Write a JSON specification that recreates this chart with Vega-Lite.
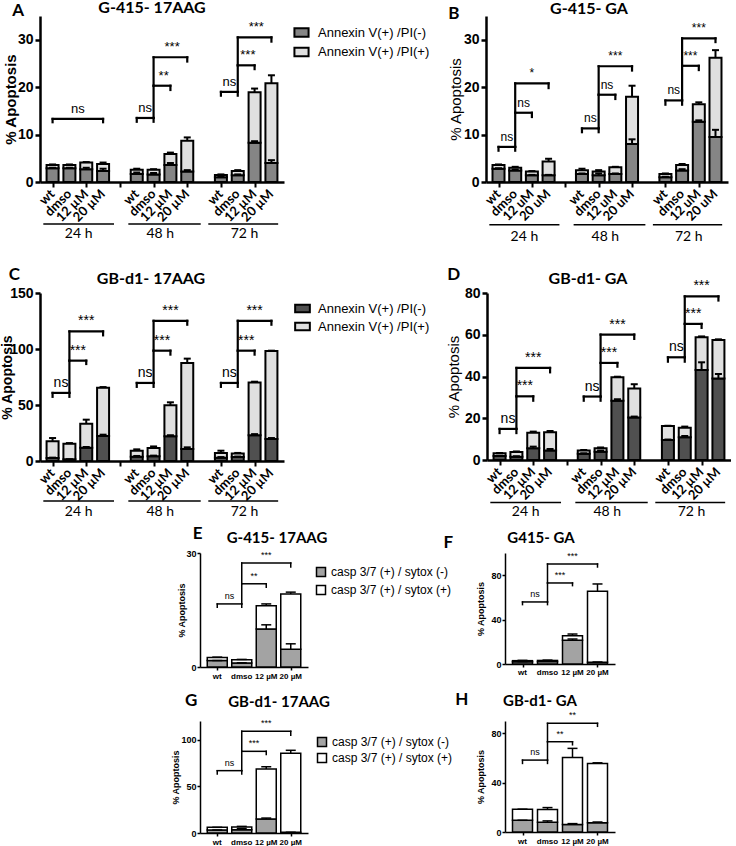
{
"$schema": "https://vega.github.io/schema/vega-lite/v6.json",
"padding": {"left": 0, "top": 0, "right": 0, "bottom": 0},
"config": {
 "view": {"stroke": null},
 "axis": {"grid": false, "domainColor": "black", "tickColor": "black", "labelColor": "black", "titleColor": "black", "labelFont": "Liberation Sans", "titleFont": "Liberation Sans", "labelFontWeight": "bold", "titleFontWeight": "bold", "labelOverlap": false, "labelFlush": false},
 "title": {"font": "Lato", "fontWeight": "bold", "color": "black", "anchor": "middle", "baseline": "alphabetic"},
 "text": {"color": "black"}
},
"datasets": {
 "grp": [{"g": "24 h", "a": 0.45, "b": 4.65, "m": 2.55}, {"g": "48 h", "a": 5.5, "b": 9.8, "m": 7.4}, {"g": "72 h", "a": 10.25, "b": 14.4, "m": 12.4}],
 "xlM": [{"x": 1, "lab": "wt"}, {"x": 2, "lab": "dmso"}, {"x": 3, "lab": "12 µM"}, {"x": 4, "lab": "20 µM"}, {"x": 6, "lab": "wt"}, {"x": 7, "lab": "dmso"}, {"x": 8, "lab": "12 µM"}, {"x": 9, "lab": "20 µM"}, {"x": 11, "lab": "wt"}, {"x": 12, "lab": "dmso"}, {"x": 13, "lab": "12 µM"}, {"x": 14, "lab": "20 µM"}],
 "xlU": [{"x": 1, "lab": "wt"}, {"x": 2, "lab": "dmso"}, {"x": 3, "lab": "12 uM"}, {"x": 4, "lab": "20 uM"}, {"x": 6, "lab": "wt"}, {"x": 7, "lab": "dmso"}, {"x": 8, "lab": "12 uM"}, {"x": 9, "lab": "20 uM"}, {"x": 11, "lab": "wt"}, {"x": 12, "lab": "dmso"}, {"x": 13, "lab": "12 uM"}, {"x": 14, "lab": "20 uM"}],
 "xl4": [{"x": 1, "lab": "wt"}, {"x": 2, "lab": "dmso"}, {"x": 3, "lab": "12 µM"}, {"x": 4, "lab": "20 µM"}],
 "bA": [
  {"x": 1, "neg": 2.9, "negHi": 3.0, "tot": 3.6, "totHi": 3.7},
  {"x": 2, "neg": 2.9, "negHi": 3.0, "tot": 3.6, "totHi": 3.7},
  {"x": 3, "neg": 2.7, "negHi": 3.0, "tot": 4.1, "totHi": 4.2},
  {"x": 4, "neg": 2.3, "negHi": 2.8, "tot": 3.8, "totHi": 4.1},
  {"x": 6, "neg": 1.7, "negHi": 2.0, "tot": 2.6, "totHi": 2.8},
  {"x": 7, "neg": 1.6, "negHi": 1.9, "tot": 2.6, "totHi": 2.7},
  {"x": 8, "neg": 3.6, "negHi": 4.0, "tot": 5.9, "totHi": 6.2},
  {"x": 9, "neg": 2.2, "negHi": 2.5, "tot": 8.7, "totHi": 9.4},
  {"x": 11, "neg": 1.0, "negHi": 1.1, "tot": 1.5, "totHi": 1.6},
  {"x": 12, "neg": 1.4, "negHi": 1.6, "tot": 2.3, "totHi": 2.5},
  {"x": 13, "neg": 8.3, "negHi": 8.6, "tot": 18.9, "totHi": 19.7},
  {"x": 14, "neg": 4.0, "negHi": 4.6, "tot": 20.8, "totHi": 22.5}
 ],
 "rA": [
  {"x1": 1, "x2": 4, "y": 13.3, "yl": 12.6, "yr": 12.6, "xm": 2.5, "t": "ns"},
  {"x1": 6, "x2": 7, "y": 13.5, "yl": 12.7, "yr": 12.7, "xm": 6.5, "t": "ns"},
  {"x1": 7, "x2": 8, "y": 20.3, "yl": 13.5, "yr": 19.4, "xm": 7.6, "t": "**"},
  {"x1": 7, "x2": 9, "y": 26.3, "yl": 20.3, "yr": 25.4, "xm": 8.1, "t": "***"},
  {"x1": 11, "x2": 12, "y": 19.0, "yl": 18.2, "yr": 18.2, "xm": 11.5, "t": "ns"},
  {"x1": 12, "x2": 13, "y": 24.6, "yl": 19.0, "yr": 23.8, "xm": 12.6, "t": "***"},
  {"x1": 12, "x2": 14, "y": 30.5, "yl": 24.6, "yr": 29.6, "xm": 13.1, "t": "***"}
 ],
 "bB": [
  {"x": 1, "neg": 2.8, "negHi": 2.9, "tot": 3.6, "totHi": 3.7},
  {"x": 2, "neg": 2.4, "negHi": 2.6, "tot": 3.0, "totHi": 3.2},
  {"x": 3, "neg": 1.4, "negHi": 1.5, "tot": 2.2, "totHi": 2.3},
  {"x": 4, "neg": 1.4, "negHi": 1.5, "tot": 4.3, "totHi": 4.9},
  {"x": 6, "neg": 1.7, "negHi": 1.8, "tot": 2.5, "totHi": 2.8},
  {"x": 7, "neg": 1.4, "negHi": 1.8, "tot": 2.2, "totHi": 2.5},
  {"x": 8, "neg": 1.7, "negHi": 1.8, "tot": 3.1, "totHi": 3.2},
  {"x": 9, "neg": 8.0, "negHi": 9.0, "tot": 18.0, "totHi": 20.3},
  {"x": 11, "neg": 1.0, "negHi": 1.1, "tot": 1.7, "totHi": 1.8},
  {"x": 12, "neg": 2.4, "negHi": 2.7, "tot": 3.6, "totHi": 3.8},
  {"x": 13, "neg": 12.7, "negHi": 13.0, "tot": 16.4, "totHi": 16.8},
  {"x": 14, "neg": 9.5, "negHi": 11.0, "tot": 26.2, "totHi": 27.8}
 ],
 "rB": [
  {"x1": 1, "x2": 2, "y": 7.4, "yl": 6.6, "yr": 6.6, "xm": 1.5, "t": "ns"},
  {"x1": 2, "x2": 3, "y": 14.6, "yl": 7.4, "yr": 13.7, "xm": 2.5, "t": "ns"},
  {"x1": 2, "x2": 4, "y": 20.8, "yl": 14.6, "yr": 19.8, "xm": 3, "t": "*"},
  {"x1": 6, "x2": 7, "y": 11.3, "yl": 10.5, "yr": 10.5, "xm": 6.5, "t": "ns"},
  {"x1": 7, "x2": 8, "y": 18.4, "yl": 11.3, "yr": 17.5, "xm": 7.5, "t": "ns"},
  {"x1": 7, "x2": 9, "y": 24.4, "yl": 18.4, "yr": 23.5, "xm": 8, "t": "***"},
  {"x1": 11, "x2": 12, "y": 17.2, "yl": 16.3, "yr": 16.3, "xm": 11.5, "t": "ns"},
  {"x1": 12, "x2": 13, "y": 24.5, "yl": 17.2, "yr": 23.6, "xm": 12.5, "t": "***"},
  {"x1": 12, "x2": 14, "y": 30.3, "yl": 24.5, "yr": 29.5, "xm": 13, "t": "***"}
 ],
 "bC": [
  {"x": 1, "neg": 2.7, "negHi": 3.0, "tot": 17.6, "totHi": 20.5},
  {"x": 2, "neg": 1.5, "negHi": 1.6, "tot": 15.5, "totHi": 16.0},
  {"x": 3, "neg": 11.9, "negHi": 12.5, "tot": 33.3, "totHi": 36.9},
  {"x": 4, "neg": 22.3, "negHi": 23.5, "tot": 65.5, "totHi": 66.0},
  {"x": 6, "neg": 3.9, "negHi": 4.5, "tot": 9.2, "totHi": 10.4},
  {"x": 7, "neg": 4.2, "negHi": 4.8, "tot": 11.6, "totHi": 13.0},
  {"x": 8, "neg": 22.0, "negHi": 23.0, "tot": 49.7, "totHi": 52.4},
  {"x": 9, "neg": 10.7, "negHi": 12.2, "tot": 87.5, "totHi": 91.4},
  {"x": 11, "neg": 3.0, "negHi": 3.5, "tot": 7.1, "totHi": 9.2},
  {"x": 12, "neg": 3.6, "negHi": 4.0, "tot": 6.8, "totHi": 7.2},
  {"x": 13, "neg": 22.9, "negHi": 24.0, "tot": 70.0, "totHi": 70.8},
  {"x": 14, "neg": 19.6, "negHi": 20.5, "tot": 98.2, "totHi": 98.5}
 ],
 "rC": [
  {"x1": 1, "x2": 2, "y": 60.8, "yl": 57.3, "yr": 57.3, "xm": 1.5, "t": "ns"},
  {"x1": 2, "x2": 3, "y": 89.6, "yl": 60.8, "yr": 86.6, "xm": 2.5, "t": "***"},
  {"x1": 2, "x2": 4, "y": 115.7, "yl": 89.6, "yr": 112.2, "xm": 3, "t": "***"},
  {"x1": 6, "x2": 7, "y": 69.7, "yl": 66.2, "yr": 66.2, "xm": 6.5, "t": "ns"},
  {"x1": 7, "x2": 8, "y": 98.5, "yl": 69.7, "yr": 95.0, "xm": 7.5, "t": "***"},
  {"x1": 7, "x2": 9, "y": 125.2, "yl": 98.5, "yr": 121.7, "xm": 8, "t": "***"},
  {"x1": 11, "x2": 12, "y": 69.7, "yl": 66.2, "yr": 66.2, "xm": 11.5, "t": "ns"},
  {"x1": 12, "x2": 13, "y": 98.5, "yl": 69.7, "yr": 95.0, "xm": 12.5, "t": "***"},
  {"x1": 12, "x2": 14, "y": 125.2, "yl": 98.5, "yr": 121.7, "xm": 13, "t": "***"}
 ],
 "bD": [
  {"x": 1, "neg": 1.9, "negHi": 2.0, "tot": 3.2, "totHi": 3.3},
  {"x": 2, "neg": 1.6, "negHi": 1.8, "tot": 3.8, "totHi": 4.1},
  {"x": 3, "neg": 5.6, "negHi": 6.4, "tot": 13.1, "totHi": 13.6},
  {"x": 4, "neg": 4.5, "negHi": 5.3, "tot": 13.3, "totHi": 13.9},
  {"x": 6, "neg": 3.0, "negHi": 3.2, "tot": 4.6, "totHi": 4.8},
  {"x": 7, "neg": 4.0, "negHi": 4.5, "tot": 5.6, "totHi": 6.0},
  {"x": 8, "neg": 28.4, "negHi": 29.1, "tot": 39.6, "totHi": 39.9},
  {"x": 9, "neg": 20.3, "negHi": 20.8, "tot": 34.3, "totHi": 36.3},
  {"x": 11, "neg": 9.6, "negHi": 9.8, "tot": 16.3, "totHi": 16.4},
  {"x": 12, "neg": 10.9, "negHi": 11.5, "tot": 15.5, "totHi": 16.0},
  {"x": 13, "neg": 43.1, "negHi": 46.8, "tot": 58.8, "totHi": 59.2},
  {"x": 14, "neg": 39.1, "negHi": 41.2, "tot": 57.5, "totHi": 57.8}
 ],
 "rD": [
  {"x1": 1, "x2": 2, "y": 14.9, "yl": 12.9, "yr": 12.9, "xm": 1.5, "t": "ns"},
  {"x1": 2, "x2": 3, "y": 30.5, "yl": 14.9, "yr": 28.4, "xm": 2.5, "t": "***"},
  {"x1": 2, "x2": 4, "y": 44.1, "yl": 30.5, "yr": 42.0, "xm": 3, "t": "***"},
  {"x1": 6, "x2": 7, "y": 30.4, "yl": 28.4, "yr": 28.4, "xm": 6.5, "t": "ns"},
  {"x1": 7, "x2": 8, "y": 46.5, "yl": 30.4, "yr": 44.7, "xm": 7.5, "t": "***"},
  {"x1": 7, "x2": 9, "y": 60.1, "yl": 46.5, "yr": 58.0, "xm": 8, "t": "***"},
  {"x1": 11, "x2": 12, "y": 49.2, "yl": 47.1, "yr": 47.1, "xm": 11.5, "t": "ns"},
  {"x1": 12, "x2": 13, "y": 65.2, "yl": 49.2, "yr": 63.3, "xm": 12.5, "t": "***"},
  {"x1": 12, "x2": 14, "y": 78.4, "yl": 65.2, "yr": 76.4, "xm": 13, "t": "***"}
 ],
 "bE": [
  {"x": 1, "neg": 1.7, "negHi": 1.7, "tot": 2.5, "totHi": 2.6},
  {"x": 2, "neg": 1.05, "negHi": 1.1, "tot": 1.9, "totHi": 2.0},
  {"x": 3, "neg": 10.0, "negHi": 11.1, "tot": 16.1, "totHi": 16.6},
  {"x": 4, "neg": 4.7, "negHi": 6.1, "tot": 19.2, "totHi": 19.7}
 ],
 "rE": [
  {"x1": 1, "x2": 2, "y": 16.6, "yl": 15.7, "yr": 15.7, "xm": 1.5, "t": "ns"},
  {"x1": 2, "x2": 3, "y": 21.9, "yl": 16.6, "yr": 21.0, "xm": 2.5, "t": "**"},
  {"x1": 2, "x2": 4, "y": 27.4, "yl": 21.9, "yr": 26.3, "xm": 3, "t": "***"}
 ],
 "bF": [
  {"x": 1, "neg": 2.0, "negHi": 2.2, "tot": 3.0, "totHi": 3.3},
  {"x": 2, "neg": 2.2, "negHi": 2.5, "tot": 3.2, "totHi": 3.5},
  {"x": 3, "neg": 21.3, "negHi": 22.5, "tot": 25.5, "totHi": 27.0},
  {"x": 4, "neg": 1.5, "negHi": 1.8, "tot": 65.5, "totHi": 72.1}
 ],
 "rF": [
  {"x1": 1, "x2": 2, "y": 55.9, "yl": 53.5, "yr": 53.5, "xm": 1.5, "t": "ns"},
  {"x1": 2, "x2": 3, "y": 73.0, "yl": 55.9, "yr": 70.6, "xm": 2.5, "t": "***"},
  {"x1": 2, "x2": 4, "y": 90.1, "yl": 73.0, "yr": 87.4, "xm": 3, "t": "***"}
 ],
 "bG": [
  {"x": 1, "neg": 3.2, "negHi": 3.2, "tot": 6.1, "totHi": 6.1},
  {"x": 2, "neg": 3.5, "negHi": 4.6, "tot": 6.4, "totHi": 7.1},
  {"x": 3, "neg": 15.0, "negHi": 16.0, "tot": 68.6, "totHi": 71.0},
  {"x": 4, "neg": 0.8, "negHi": 0.8, "tot": 85.4, "totHi": 88.6}
 ],
 "rG": [
  {"x1": 1, "x2": 2, "y": 66.8, "yl": 63.2, "yr": 63.2, "xm": 1.5, "t": "ns"},
  {"x1": 2, "x2": 3, "y": 87.5, "yl": 66.8, "yr": 84.0, "xm": 2.5, "t": "***"},
  {"x1": 2, "x2": 4, "y": 109.0, "yl": 87.5, "yr": 104.6, "xm": 3, "t": "***"}
 ],
 "bH": [
  {"x": 1, "neg": 9.5, "negHi": 9.5, "tot": 18.5, "totHi": 18.5},
  {"x": 2, "neg": 8.0, "negHi": 9.0, "tot": 18.2, "totHi": 19.8},
  {"x": 3, "neg": 6.0, "negHi": 6.8, "tot": 60.4, "totHi": 67.8},
  {"x": 4, "neg": 7.6, "negHi": 8.1, "tot": 55.6, "totHi": 56.1}
 ],
 "rH": [
  {"x1": 1, "x2": 2, "y": 58.3, "yl": 55.6, "yr": 55.6, "xm": 1.5, "t": "ns"},
  {"x1": 2, "x2": 3, "y": 73.2, "yl": 58.3, "yr": 70.7, "xm": 2.5, "t": "**"},
  {"x1": 2, "x2": 4, "y": 88.1, "yl": 73.2, "yr": 85.7, "xm": 3, "t": "**"}
 ]
},
"resolve": {"scale": {"color": "independent"}, "legend": {"color": "independent"}},
"spacing": 4,
"vconcat": [
 {"spacing": 20, "resolve": {"scale": {"color": "independent"}, "legend": {"color": "independent"}},
  "vconcat": [
  {"hconcat": [
   {"width": 244, "height": 166,
    "title": {"text": "G-415- 17AAG", "dx": -10, "offset": -14.7, "fontSize": 16},
    "layer": [
     {"data": {"name": "bA"}, "mark": {"type": "bar", "size": 12, "stroke": "black", "strokeWidth": 2},
      "encoding": {
       "x": {"field": "x", "type": "quantitative", "scale": {"domain": [0.55, 14.45], "nice": false, "zero": false},
        "axis": {"values": [1,2,3,4,5,6,7,8,9,10,11,12,13,14], "labels": false, "tickSize": 5, "tickWidth": 2, "domainWidth": 2.5, "title": null}},
       "y": {"field": "neg", "type": "quantitative", "stack": null, "scale": {"domain": [0, 35], "nice": false},
        "axis": {"values": [0, 10, 20, 30], "title": "% Apoptosis", "titleFontSize": 15, "titleX": -30, "titleBaseline": "middle", "labelFontSize": 14, "tickSize": 5, "tickWidth": 2.5, "domainWidth": 2.5, "labelPadding": 2}},
       "color": {"datum": "Annexin V(+) /PI(-)", "type": "nominal", "scale": {"domain": ["Annexin V(+) /PI(-)", "Annexin V(+) /PI(+)"], "range": ["#858585", "#e0e0e0"]},
        "legend": {"orient": "none", "legendX": 253, "legendY": 8, "title": null, "symbolType": "M-1,-0.6H1V0.6H-1Z", "symbolSize": 200, "symbolStrokeColor": "black", "symbolStrokeWidth": 2, "labelFont": "Liberation Sans", "labelFontSize": 13, "labelColor": "black", "rowPadding": 2.5, "labelOffset": 8}}
      }},
     {"data": {"name": "bA"}, "mark": {"type": "bar", "size": 12, "stroke": "black", "strokeWidth": 2},
      "encoding": {"x": {"field": "x", "type": "quantitative"}, "y": {"field": "neg", "type": "quantitative"}, "y2": {"field": "tot"}, "color": {"datum": "Annexin V(+) /PI(+)", "type": "nominal"}}},
     {"data": {"name": "bA"}, "mark": {"type": "rule", "strokeWidth": 2, "color": "black"}, "encoding": {"x": {"field": "x", "type": "quantitative"}, "y": {"field": "neg", "type": "quantitative"}, "y2": {"field": "negHi"}}},
     {"data": {"name": "bA"}, "mark": {"type": "tick", "orient": "horizontal", "size": 7, "thickness": 2, "color": "black", "opacity": 1}, "encoding": {"x": {"field": "x", "type": "quantitative"}, "y": {"field": "negHi", "type": "quantitative"}}},
     {"data": {"name": "bA"}, "mark": {"type": "rule", "strokeWidth": 2, "color": "black"}, "encoding": {"x": {"field": "x", "type": "quantitative"}, "y": {"field": "tot", "type": "quantitative"}, "y2": {"field": "totHi"}}},
     {"data": {"name": "bA"}, "mark": {"type": "tick", "orient": "horizontal", "size": 7, "thickness": 2, "color": "black", "opacity": 1}, "encoding": {"x": {"field": "x", "type": "quantitative"}, "y": {"field": "totHi", "type": "quantitative"}}},
     {"data": {"name": "rA"}, "mark": {"type": "rule", "strokeWidth": 2.2, "color": "black", "strokeCap": "square"}, "encoding": {"x": {"field": "x1", "type": "quantitative"}, "x2": {"field": "x2"}, "y": {"field": "y", "type": "quantitative"}}},
     {"data": {"name": "rA"}, "mark": {"type": "rule", "strokeWidth": 2.2, "color": "black", "strokeCap": "square"}, "encoding": {"x": {"field": "x1", "type": "quantitative"}, "y": {"field": "yl", "type": "quantitative"}, "y2": {"field": "y"}}},
     {"data": {"name": "rA"}, "mark": {"type": "rule", "strokeWidth": 2.2, "color": "black", "strokeCap": "square"}, "encoding": {"x": {"field": "x2", "type": "quantitative"}, "y": {"field": "yr", "type": "quantitative"}, "y2": {"field": "y"}}},
     {"data": {"name": "rA"}, "mark": {"type": "text", "baseline": "bottom", "dy": -3, "font": "Liberation Sans", "fontSize": 13, "color": "black"}, "encoding": {"x": {"field": "xm", "type": "quantitative"}, "y": {"field": "y", "type": "quantitative"}, "text": {"field": "t"}}},
     {"data": {"name": "xlM"}, "mark": {"type": "text", "angle": -45, "align": "right", "baseline": "middle", "font": "Lato", "fontWeight": "bold", "fontSize": 13, "color": "black"}, "encoding": {"x": {"field": "x", "type": "quantitative"}, "y": {"datum": -2.1, "type": "quantitative"}, "text": {"field": "lab"}}},
     {"data": {"name": "grp"}, "mark": {"type": "rule", "strokeWidth": 1.5, "color": "black"}, "encoding": {"x": {"field": "a", "type": "quantitative"}, "x2": {"field": "b"}, "y": {"datum": -8.85, "type": "quantitative"}}},
     {"data": {"name": "grp"}, "mark": {"type": "text", "baseline": "middle", "font": "Lato", "fontSize": 14, "color": "black"}, "encoding": {"x": {"field": "m", "type": "quantitative"}, "y": {"datum": -11.0, "type": "quantitative"}, "text": {"field": "g"}}},
     {"data": {"values": [{"letter": "A"}]}, "mark": {"type": "text", "font": "Lato", "fontSize": 17, "fontWeight": "bold", "baseline": "alphabetic", "align": "center", "color": "black"}, "encoding": {"x": {"datum": -1.04, "type": "quantitative"}, "y": {"datum": 35.06, "type": "quantitative"}, "text": {"field": "letter"}}}
    ]},
   {"width": 242, "height": 166,
    "title": {"text": "G-415- GA", "dx": -18, "offset": -11.7, "fontSize": 16},
    "layer": [
     {"data": {"name": "bB"}, "mark": {"type": "bar", "size": 12, "stroke": "black", "strokeWidth": 2},
      "encoding": {
       "x": {"field": "x", "type": "quantitative", "scale": {"domain": [0.55, 14.45], "nice": false, "zero": false},
        "axis": {"values": [1,2,3,4,5,6,7,8,9,10,11,12,13,14], "labels": false, "tickSize": 5, "tickWidth": 2, "domainWidth": 2.5, "title": null}},
       "y": {"field": "neg", "type": "quantitative", "stack": null, "scale": {"domain": [0, 35], "nice": false},
        "axis": {"values": [0, 10, 20, 30], "title": "% Apoptosis", "titleFontSize": 15, "titleX": -31, "titleBaseline": "middle", "titleFontWeight": "normal", "labelFontSize": 14, "tickSize": 5, "tickWidth": 2.5, "domainWidth": 2.5, "labelPadding": 2}},
       "color": {"datum": "Annexin V(+) /PI(-)", "type": "nominal", "scale": {"domain": ["Annexin V(+) /PI(-)", "Annexin V(+) /PI(+)"], "range": ["#858585", "#e0e0e0"]}, "legend": null}
      }},
     {"data": {"name": "bB"}, "mark": {"type": "bar", "size": 12, "stroke": "black", "strokeWidth": 2},
      "encoding": {"x": {"field": "x", "type": "quantitative"}, "y": {"field": "neg", "type": "quantitative"}, "y2": {"field": "tot"}, "color": {"datum": "Annexin V(+) /PI(+)", "type": "nominal"}}},
     {"data": {"name": "bB"}, "mark": {"type": "rule", "strokeWidth": 2, "color": "black"}, "encoding": {"x": {"field": "x", "type": "quantitative"}, "y": {"field": "neg", "type": "quantitative"}, "y2": {"field": "negHi"}}},
     {"data": {"name": "bB"}, "mark": {"type": "tick", "orient": "horizontal", "size": 7, "thickness": 2, "color": "black", "opacity": 1}, "encoding": {"x": {"field": "x", "type": "quantitative"}, "y": {"field": "negHi", "type": "quantitative"}}},
     {"data": {"name": "bB"}, "mark": {"type": "rule", "strokeWidth": 2, "color": "black"}, "encoding": {"x": {"field": "x", "type": "quantitative"}, "y": {"field": "tot", "type": "quantitative"}, "y2": {"field": "totHi"}}},
     {"data": {"name": "bB"}, "mark": {"type": "tick", "orient": "horizontal", "size": 7, "thickness": 2, "color": "black", "opacity": 1}, "encoding": {"x": {"field": "x", "type": "quantitative"}, "y": {"field": "totHi", "type": "quantitative"}}},
     {"data": {"name": "rB"}, "mark": {"type": "rule", "strokeWidth": 2.2, "color": "black", "strokeCap": "square"}, "encoding": {"x": {"field": "x1", "type": "quantitative"}, "x2": {"field": "x2"}, "y": {"field": "y", "type": "quantitative"}}},
     {"data": {"name": "rB"}, "mark": {"type": "rule", "strokeWidth": 2.2, "color": "black", "strokeCap": "square"}, "encoding": {"x": {"field": "x1", "type": "quantitative"}, "y": {"field": "yl", "type": "quantitative"}, "y2": {"field": "y"}}},
     {"data": {"name": "rB"}, "mark": {"type": "rule", "strokeWidth": 2.2, "color": "black", "strokeCap": "square"}, "encoding": {"x": {"field": "x2", "type": "quantitative"}, "y": {"field": "yr", "type": "quantitative"}, "y2": {"field": "y"}}},
     {"data": {"name": "rB"}, "mark": {"type": "text", "baseline": "bottom", "dy": -3, "font": "Liberation Sans", "fontSize": 12, "color": "black"}, "encoding": {"x": {"field": "xm", "type": "quantitative"}, "y": {"field": "y", "type": "quantitative"}, "text": {"field": "t"}}},
     {"data": {"name": "xlU"}, "mark": {"type": "text", "angle": -45, "align": "right", "baseline": "middle", "font": "Lato", "fontWeight": "bold", "fontSize": 13, "color": "black"}, "encoding": {"x": {"field": "x", "type": "quantitative"}, "y": {"datum": -2.1, "type": "quantitative"}, "text": {"field": "lab"}}},
     {"data": {"name": "grp"}, "mark": {"type": "rule", "strokeWidth": 1.5, "color": "black"}, "encoding": {"x": {"field": "a", "type": "quantitative"}, "x2": {"field": "b"}, "y": {"datum": -9.0, "type": "quantitative"}}},
     {"data": {"name": "grp"}, "mark": {"type": "text", "baseline": "middle", "font": "Lato", "fontSize": 14, "color": "black"}, "encoding": {"x": {"field": "m", "type": "quantitative"}, "y": {"datum": -11.6, "type": "quantitative"}, "text": {"field": "g"}}},
     {"data": {"values": [{"letter": "B"}]}, "mark": {"type": "text", "font": "Lato", "fontSize": 17, "fontWeight": "bold", "baseline": "alphabetic", "align": "center", "color": "black"}, "encoding": {"x": {"datum": -1.68, "type": "quantitative"}, "y": {"datum": 34.37, "type": "quantitative"}, "text": {"field": "letter"}}}
    ]}
  ], "spacing": 202, "bounds": "flush", "resolve": {"scale": {"color": "independent"}, "legend": {"color": "independent"}}},
  {"hconcat": [
   {"width": 244, "height": 168,
    "title": {"text": "GB-d1- 17AAG", "dx": -11, "offset": -21.1, "fontSize": 16},
    "layer": [
     {"data": {"name": "bC"}, "mark": {"type": "bar", "size": 12, "stroke": "black", "strokeWidth": 2},
      "encoding": {
       "x": {"field": "x", "type": "quantitative", "scale": {"domain": [0.55, 14.45], "nice": false, "zero": false},
        "axis": {"values": [1,2,3,4,5,6,7,8,9,10,11,12,13,14], "labels": false, "tickSize": 5, "tickWidth": 2, "domainWidth": 2.5, "title": null}},
       "y": {"field": "neg", "type": "quantitative", "stack": null, "scale": {"domain": [0, 150], "nice": false},
        "axis": {"values": [0, 50, 100, 150], "title": "% Apoptosis", "titleFontSize": 14, "titleX": -33, "titleBaseline": "middle", "labelFontSize": 14, "tickSize": 5, "tickWidth": 2.5, "domainWidth": 2.5, "labelPadding": 2}},
       "color": {"datum": "Annexin V(+) /PI(-)", "type": "nominal", "scale": {"domain": ["Annexin V(+) /PI(-)", "Annexin V(+) /PI(+)"], "range": ["#505050", "#e0e0e0"]},
        "legend": {"orient": "none", "legendX": 255, "legendY": 8, "title": null, "symbolType": "M-1.2,-0.6H1.2V0.6H-1.2Z", "symbolSize": 150, "symbolStrokeColor": "black", "symbolStrokeWidth": 2, "labelFont": "Liberation Sans", "labelFontSize": 13, "labelColor": "black", "rowPadding": 1, "labelOffset": 8}}
      }},
     {"data": {"name": "bC"}, "mark": {"type": "bar", "size": 12, "stroke": "black", "strokeWidth": 2},
      "encoding": {"x": {"field": "x", "type": "quantitative"}, "y": {"field": "neg", "type": "quantitative"}, "y2": {"field": "tot"}, "color": {"datum": "Annexin V(+) /PI(+)", "type": "nominal"}}},
     {"data": {"name": "bC"}, "mark": {"type": "rule", "strokeWidth": 2, "color": "black"}, "encoding": {"x": {"field": "x", "type": "quantitative"}, "y": {"field": "neg", "type": "quantitative"}, "y2": {"field": "negHi"}}},
     {"data": {"name": "bC"}, "mark": {"type": "tick", "orient": "horizontal", "size": 7, "thickness": 2, "color": "black", "opacity": 1}, "encoding": {"x": {"field": "x", "type": "quantitative"}, "y": {"field": "negHi", "type": "quantitative"}}},
     {"data": {"name": "bC"}, "mark": {"type": "rule", "strokeWidth": 2, "color": "black"}, "encoding": {"x": {"field": "x", "type": "quantitative"}, "y": {"field": "tot", "type": "quantitative"}, "y2": {"field": "totHi"}}},
     {"data": {"name": "bC"}, "mark": {"type": "tick", "orient": "horizontal", "size": 7, "thickness": 2, "color": "black", "opacity": 1}, "encoding": {"x": {"field": "x", "type": "quantitative"}, "y": {"field": "totHi", "type": "quantitative"}}},
     {"data": {"name": "rC"}, "mark": {"type": "rule", "strokeWidth": 2.2, "color": "black", "strokeCap": "square"}, "encoding": {"x": {"field": "x1", "type": "quantitative"}, "x2": {"field": "x2"}, "y": {"field": "y", "type": "quantitative"}}},
     {"data": {"name": "rC"}, "mark": {"type": "rule", "strokeWidth": 2.2, "color": "black", "strokeCap": "square"}, "encoding": {"x": {"field": "x1", "type": "quantitative"}, "y": {"field": "yl", "type": "quantitative"}, "y2": {"field": "y"}}},
     {"data": {"name": "rC"}, "mark": {"type": "rule", "strokeWidth": 2.2, "color": "black", "strokeCap": "square"}, "encoding": {"x": {"field": "x2", "type": "quantitative"}, "y": {"field": "yr", "type": "quantitative"}, "y2": {"field": "y"}}},
     {"data": {"name": "rC"}, "mark": {"type": "text", "baseline": "bottom", "dy": -3, "font": "Liberation Sans", "fontSize": 14, "color": "black"}, "encoding": {"x": {"field": "xm", "type": "quantitative"}, "y": {"field": "y", "type": "quantitative"}, "text": {"field": "t"}}},
     {"data": {"name": "xlM"}, "mark": {"type": "text", "angle": -45, "align": "right", "baseline": "middle", "font": "Lato", "fontWeight": "bold", "fontSize": 13, "color": "black"}, "encoding": {"x": {"field": "x", "type": "quantitative"}, "y": {"datum": -8.9, "type": "quantitative"}, "text": {"field": "lab"}}},
     {"data": {"name": "grp"}, "mark": {"type": "rule", "strokeWidth": 1.5, "color": "black"}, "encoding": {"x": {"field": "a", "type": "quantitative"}, "x2": {"field": "b"}, "y": {"datum": -35.7, "type": "quantitative"}}},
     {"data": {"name": "grp"}, "mark": {"type": "text", "baseline": "middle", "font": "Lato", "fontSize": 14, "color": "black"}, "encoding": {"x": {"field": "m", "type": "quantitative"}, "y": {"datum": -45.8, "type": "quantitative"}, "text": {"field": "g"}}},
     {"data": {"values": [{"letter": "C"}]}, "mark": {"type": "text", "font": "Lato", "fontSize": 17, "fontWeight": "bold", "baseline": "alphabetic", "align": "center", "color": "black"}, "encoding": {"x": {"datum": -1.27, "type": "quantitative"}, "y": {"datum": 161.9, "type": "quantitative"}, "text": {"field": "letter"}}}
    ]},
   {"width": 244, "height": 167,
    "title": {"text": "GB-d1- GA", "dx": -21, "offset": -21.1, "fontSize": 16},
    "layer": [
     {"data": {"name": "bD"}, "mark": {"type": "bar", "size": 12, "stroke": "black", "strokeWidth": 2},
      "encoding": {
       "x": {"field": "x", "type": "quantitative", "scale": {"domain": [0.55, 14.45], "nice": false, "zero": false},
        "axis": {"values": [1,2,3,4,5,6,7,8,9,10,11,12,13,14], "labels": false, "tickSize": 5, "tickWidth": 2, "domainWidth": 2.5, "title": null}},
       "y": {"field": "neg", "type": "quantitative", "stack": null, "scale": {"domain": [0, 80], "nice": false},
        "axis": {"values": [0, 20, 40, 60, 80], "title": "% Apoptosis", "titleFontSize": 15, "titleX": -34, "titleBaseline": "middle", "titleFontWeight": "normal", "labelFontSize": 14, "tickSize": 5, "tickWidth": 2.5, "domainWidth": 2.5, "labelPadding": 2}},
       "color": {"datum": "Annexin V(+) /PI(-)", "type": "nominal", "scale": {"domain": ["Annexin V(+) /PI(-)", "Annexin V(+) /PI(+)"], "range": ["#505050", "#e0e0e0"]}, "legend": null}
      }},
     {"data": {"name": "bD"}, "mark": {"type": "bar", "size": 12, "stroke": "black", "strokeWidth": 2},
      "encoding": {"x": {"field": "x", "type": "quantitative"}, "y": {"field": "neg", "type": "quantitative"}, "y2": {"field": "tot"}, "color": {"datum": "Annexin V(+) /PI(+)", "type": "nominal"}}},
     {"data": {"name": "bD"}, "mark": {"type": "rule", "strokeWidth": 2, "color": "black"}, "encoding": {"x": {"field": "x", "type": "quantitative"}, "y": {"field": "neg", "type": "quantitative"}, "y2": {"field": "negHi"}}},
     {"data": {"name": "bD"}, "mark": {"type": "tick", "orient": "horizontal", "size": 7, "thickness": 2, "color": "black", "opacity": 1}, "encoding": {"x": {"field": "x", "type": "quantitative"}, "y": {"field": "negHi", "type": "quantitative"}}},
     {"data": {"name": "bD"}, "mark": {"type": "rule", "strokeWidth": 2, "color": "black"}, "encoding": {"x": {"field": "x", "type": "quantitative"}, "y": {"field": "tot", "type": "quantitative"}, "y2": {"field": "totHi"}}},
     {"data": {"name": "bD"}, "mark": {"type": "tick", "orient": "horizontal", "size": 7, "thickness": 2, "color": "black", "opacity": 1}, "encoding": {"x": {"field": "x", "type": "quantitative"}, "y": {"field": "totHi", "type": "quantitative"}}},
     {"data": {"name": "rD"}, "mark": {"type": "rule", "strokeWidth": 2.2, "color": "black", "strokeCap": "square"}, "encoding": {"x": {"field": "x1", "type": "quantitative"}, "x2": {"field": "x2"}, "y": {"field": "y", "type": "quantitative"}}},
     {"data": {"name": "rD"}, "mark": {"type": "rule", "strokeWidth": 2.2, "color": "black", "strokeCap": "square"}, "encoding": {"x": {"field": "x1", "type": "quantitative"}, "y": {"field": "yl", "type": "quantitative"}, "y2": {"field": "y"}}},
     {"data": {"name": "rD"}, "mark": {"type": "rule", "strokeWidth": 2.2, "color": "black", "strokeCap": "square"}, "encoding": {"x": {"field": "x2", "type": "quantitative"}, "y": {"field": "yr", "type": "quantitative"}, "y2": {"field": "y"}}},
     {"data": {"name": "rD"}, "mark": {"type": "text", "baseline": "bottom", "dy": -3, "font": "Liberation Sans", "fontSize": 14, "color": "black"}, "encoding": {"x": {"field": "xm", "type": "quantitative"}, "y": {"field": "y", "type": "quantitative"}, "text": {"field": "t"}}},
     {"data": {"name": "xlM"}, "mark": {"type": "text", "angle": -45, "align": "right", "baseline": "middle", "font": "Lato", "fontWeight": "bold", "fontSize": 13, "color": "black"}, "encoding": {"x": {"field": "x", "type": "quantitative"}, "y": {"datum": -4.8, "type": "quantitative"}, "text": {"field": "lab"}}},
     {"data": {"name": "grp"}, "mark": {"type": "rule", "strokeWidth": 1.5, "color": "black"}, "encoding": {"x": {"field": "a", "type": "quantitative"}, "x2": {"field": "b"}, "y": {"datum": -20.3, "type": "quantitative"}}},
     {"data": {"name": "grp"}, "mark": {"type": "text", "baseline": "middle", "font": "Lato", "fontSize": 14, "color": "black"}, "encoding": {"x": {"field": "m", "type": "quantitative"}, "y": {"datum": -25.1, "type": "quantitative"}, "text": {"field": "g"}}},
     {"data": {"values": [{"letter": "D"}]}, "mark": {"type": "text", "font": "Lato", "fontSize": 17, "fontWeight": "bold", "baseline": "alphabetic", "align": "center", "color": "black"}, "encoding": {"x": {"datum": -1.72, "type": "quantitative"}, "y": {"datum": 86.4, "type": "quantitative"}, "text": {"field": "letter"}}}
    ]}
  ], "spacing": 203, "bounds": "flush", "resolve": {"scale": {"color": "independent"}, "legend": {"color": "independent"}}}
 ]},
 {"spacing": 9, "resolve": {"scale": {"color": "independent"}, "legend": {"color": "independent"}},
  "vconcat": [
  {"hconcat": [
   {"width": 100, "height": 1, "data": {"values": []}, "mark": "point"},
   {"width": 108, "height": 114,
    "title": {"text": "G-415- 17AAG", "dx": 23, "offset": -20.7, "fontSize": 15},
    "layer": [
     {"data": {"name": "bE"}, "mark": {"type": "bar", "size": 20, "stroke": "black", "strokeWidth": 1.5},
      "encoding": {
       "x": {"field": "x", "type": "quantitative", "scale": {"domain": [0.5, 4.5], "nice": false, "zero": false},
        "axis": {"values": [1, 2, 3, 4], "labels": false, "tickSize": 3, "tickWidth": 1.5, "domainWidth": 1.5, "title": null}},
       "y": {"field": "neg", "type": "quantitative", "stack": null, "scale": {"domain": [0, 30], "nice": false},
        "axis": {"values": [0, 10, 20, 30], "title": "% Apoptosis", "titleFontSize": 9, "titleX": -19, "titleBaseline": "middle", "labelFontSize": 9, "tickSize": 3, "tickWidth": 1.5, "domainWidth": 1.5, "labelPadding": 1}},
       "color": {"datum": "casp 3/7 (+) / sytox (-)", "type": "nominal", "scale": {"domain": ["casp 3/7 (+) / sytox (-)", "casp 3/7 (+) / sytox (+)"], "range": ["#a3a3a3", "#ffffff"]},
        "legend": {"orient": "none", "legendX": 115, "legendY": 13, "title": null, "symbolType": "square", "symbolSize": 81, "symbolStrokeColor": "black", "symbolStrokeWidth": 1.5, "labelFont": "Liberation Sans", "labelFontSize": 12, "labelColor": "black", "rowPadding": 2, "labelOffset": 4}}
      }},
     {"data": {"name": "bE"}, "mark": {"type": "bar", "size": 20, "stroke": "black", "strokeWidth": 1.5},
      "encoding": {"x": {"field": "x", "type": "quantitative"}, "y": {"field": "neg", "type": "quantitative"}, "y2": {"field": "tot"}, "color": {"datum": "casp 3/7 (+) / sytox (+)", "type": "nominal"}}},
     {"data": {"name": "bE"}, "mark": {"type": "rule", "strokeWidth": 1.5, "color": "black"}, "encoding": {"x": {"field": "x", "type": "quantitative"}, "y": {"field": "neg", "type": "quantitative"}, "y2": {"field": "negHi"}}},
     {"data": {"name": "bE"}, "mark": {"type": "tick", "orient": "horizontal", "size": 10, "thickness": 1.5, "color": "black", "opacity": 1}, "encoding": {"x": {"field": "x", "type": "quantitative"}, "y": {"field": "negHi", "type": "quantitative"}}},
     {"data": {"name": "bE"}, "mark": {"type": "rule", "strokeWidth": 1.5, "color": "black"}, "encoding": {"x": {"field": "x", "type": "quantitative"}, "y": {"field": "tot", "type": "quantitative"}, "y2": {"field": "totHi"}}},
     {"data": {"name": "bE"}, "mark": {"type": "tick", "orient": "horizontal", "size": 10, "thickness": 1.5, "color": "black", "opacity": 1}, "encoding": {"x": {"field": "x", "type": "quantitative"}, "y": {"field": "totHi", "type": "quantitative"}}},
     {"data": {"name": "rE"}, "mark": {"type": "rule", "strokeWidth": 1.5, "color": "black", "strokeCap": "square"}, "encoding": {"x": {"field": "x1", "type": "quantitative"}, "x2": {"field": "x2"}, "y": {"field": "y", "type": "quantitative"}}},
     {"data": {"name": "rE"}, "mark": {"type": "rule", "strokeWidth": 1.5, "color": "black", "strokeCap": "square"}, "encoding": {"x": {"field": "x1", "type": "quantitative"}, "y": {"field": "yl", "type": "quantitative"}, "y2": {"field": "y"}}},
     {"data": {"name": "rE"}, "mark": {"type": "rule", "strokeWidth": 1.5, "color": "black", "strokeCap": "square"}, "encoding": {"x": {"field": "x2", "type": "quantitative"}, "y": {"field": "yr", "type": "quantitative"}, "y2": {"field": "y"}}},
     {"data": {"name": "rE"}, "mark": {"type": "text", "baseline": "bottom", "dy": -3, "font": "Liberation Sans", "fontSize": 9, "color": "black"}, "encoding": {"x": {"field": "xm", "type": "quantitative"}, "y": {"field": "y", "type": "quantitative"}, "text": {"field": "t"}}},
     {"data": {"name": "xl4"}, "mark": {"type": "text", "align": "center", "baseline": "top", "font": "Liberation Sans", "fontWeight": "bold", "fontSize": 8, "color": "black"}, "encoding": {"x": {"field": "x", "type": "quantitative"}, "y": {"datum": -1.45, "type": "quantitative"}, "text": {"field": "lab"}}},
     {"data": {"values": [{"letter": "E"}]}, "mark": {"type": "text", "font": "Lato", "fontSize": 17, "fontWeight": "bold", "baseline": "alphabetic", "align": "center", "color": "black"}, "encoding": {"x": {"datum": 0.2, "type": "quantitative"}, "y": {"datum": 33.7, "type": "quantitative"}, "text": {"field": "letter"}}}
    ]},
   {"width": 77, "height": 1, "data": {"values": []}, "mark": "point"},
   {"width": 110, "height": 111,
    "title": {"text": "G415- GA", "dx": -19, "offset": -11.7, "fontSize": 15},
    "layer": [
     {"data": {"name": "bF"}, "mark": {"type": "bar", "size": 20, "stroke": "black", "strokeWidth": 1.5},
      "encoding": {
       "x": {"field": "x", "type": "quantitative", "scale": {"domain": [0.5, 4.5], "nice": false, "zero": false},
        "axis": {"values": [1, 2, 3, 4], "labels": false, "tickSize": 3, "tickWidth": 1.5, "domainWidth": 1.5, "title": null}},
       "y": {"field": "neg", "type": "quantitative", "stack": null, "scale": {"domain": [0, 100], "nice": false},
        "axis": {"values": [0, 20, 40, 60, 80, 100], "title": "% Apoptosis", "titleFontSize": 9, "titleX": -25, "titleBaseline": "middle", "labelFontSize": 9, "tickSize": 3, "tickWidth": 1.5, "domainWidth": 1.5, "labelPadding": 1}},
       "color": {"datum": "casp 3/7 (+) / sytox (-)", "type": "nominal", "scale": {"domain": ["casp 3/7 (+) / sytox (-)", "casp 3/7 (+) / sytox (+)"], "range": ["#a3a3a3", "#ffffff"]}, "legend": null}
      }},
     {"data": {"name": "bF"}, "mark": {"type": "bar", "size": 20, "stroke": "black", "strokeWidth": 1.5},
      "encoding": {"x": {"field": "x", "type": "quantitative"}, "y": {"field": "neg", "type": "quantitative"}, "y2": {"field": "tot"}, "color": {"datum": "casp 3/7 (+) / sytox (+)", "type": "nominal"}}},
     {"data": {"name": "bF"}, "mark": {"type": "rule", "strokeWidth": 1.5, "color": "black"}, "encoding": {"x": {"field": "x", "type": "quantitative"}, "y": {"field": "neg", "type": "quantitative"}, "y2": {"field": "negHi"}}},
     {"data": {"name": "bF"}, "mark": {"type": "tick", "orient": "horizontal", "size": 10, "thickness": 1.5, "color": "black", "opacity": 1}, "encoding": {"x": {"field": "x", "type": "quantitative"}, "y": {"field": "negHi", "type": "quantitative"}}},
     {"data": {"name": "bF"}, "mark": {"type": "rule", "strokeWidth": 1.5, "color": "black"}, "encoding": {"x": {"field": "x", "type": "quantitative"}, "y": {"field": "tot", "type": "quantitative"}, "y2": {"field": "totHi"}}},
     {"data": {"name": "bF"}, "mark": {"type": "tick", "orient": "horizontal", "size": 10, "thickness": 1.5, "color": "black", "opacity": 1}, "encoding": {"x": {"field": "x", "type": "quantitative"}, "y": {"field": "totHi", "type": "quantitative"}}},
     {"data": {"name": "rF"}, "mark": {"type": "rule", "strokeWidth": 1.5, "color": "black", "strokeCap": "square"}, "encoding": {"x": {"field": "x1", "type": "quantitative"}, "x2": {"field": "x2"}, "y": {"field": "y", "type": "quantitative"}}},
     {"data": {"name": "rF"}, "mark": {"type": "rule", "strokeWidth": 1.5, "color": "black", "strokeCap": "square"}, "encoding": {"x": {"field": "x1", "type": "quantitative"}, "y": {"field": "yl", "type": "quantitative"}, "y2": {"field": "y"}}},
     {"data": {"name": "rF"}, "mark": {"type": "rule", "strokeWidth": 1.5, "color": "black", "strokeCap": "square"}, "encoding": {"x": {"field": "x2", "type": "quantitative"}, "y": {"field": "yr", "type": "quantitative"}, "y2": {"field": "y"}}},
     {"data": {"name": "rF"}, "mark": {"type": "text", "baseline": "bottom", "dy": -3, "font": "Liberation Sans", "fontSize": 9, "color": "black"}, "encoding": {"x": {"field": "xm", "type": "quantitative"}, "y": {"field": "y", "type": "quantitative"}, "text": {"field": "t"}}},
     {"data": {"name": "xl4"}, "mark": {"type": "text", "align": "center", "baseline": "top", "font": "Liberation Sans", "fontWeight": "bold", "fontSize": 8, "color": "black"}, "encoding": {"x": {"field": "x", "type": "quantitative"}, "y": {"datum": -4.95, "type": "quantitative"}, "text": {"field": "lab"}}},
     {"data": {"values": [{"letter": "F"}]}, "mark": {"type": "text", "font": "Lato", "fontSize": 17, "fontWeight": "bold", "baseline": "alphabetic", "align": "center", "color": "black"}, "encoding": {"x": {"datum": -1.97, "type": "quantitative"}, "y": {"datum": 104.5, "type": "quantitative"}, "text": {"field": "letter"}}}
    ]}
  ], "spacing": 60, "bounds": "flush", "resolve": {"scale": {"color": "independent"}, "legend": {"color": "independent"}}},
  {"hconcat": [
   {"width": 100, "height": 1, "data": {"values": []}, "mark": "point"},
   {"width": 108, "height": 112,
    "title": {"text": "GB-d1- 17AAG", "dx": 25, "offset": -17.7, "fontSize": 15},
    "layer": [
     {"data": {"name": "bG"}, "mark": {"type": "bar", "size": 20, "stroke": "black", "strokeWidth": 1.5},
      "encoding": {
       "x": {"field": "x", "type": "quantitative", "scale": {"domain": [0.5, 4.5], "nice": false, "zero": false},
        "axis": {"values": [1, 2, 3, 4], "labels": false, "tickSize": 3, "tickWidth": 1.5, "domainWidth": 1.5, "title": null}},
       "y": {"field": "neg", "type": "quantitative", "stack": null, "scale": {"domain": [0, 120], "nice": false},
        "axis": {"values": [0, 50, 100], "title": "% Apoptosis", "titleFontSize": 9, "titleX": -25, "titleBaseline": "middle", "labelFontSize": 9, "tickSize": 3, "tickWidth": 1.5, "domainWidth": 1.5, "labelPadding": 1}},
       "color": {"datum": "casp 3/7 (+) / sytox (-)", "type": "nominal", "scale": {"domain": ["casp 3/7 (+) / sytox (-)", "casp 3/7 (+) / sytox (+)"], "range": ["#a3a3a3", "#ffffff"]},
        "legend": {"orient": "none", "legendX": 116, "legendY": 15, "title": null, "symbolType": "square", "symbolSize": 81, "symbolStrokeColor": "black", "symbolStrokeWidth": 1.5, "labelFont": "Liberation Sans", "labelFontSize": 12, "labelColor": "black", "rowPadding": 0, "labelOffset": 4}}
      }},
     {"data": {"name": "bG"}, "mark": {"type": "bar", "size": 20, "stroke": "black", "strokeWidth": 1.5},
      "encoding": {"x": {"field": "x", "type": "quantitative"}, "y": {"field": "neg", "type": "quantitative"}, "y2": {"field": "tot"}, "color": {"datum": "casp 3/7 (+) / sytox (+)", "type": "nominal"}}},
     {"data": {"name": "bG"}, "mark": {"type": "rule", "strokeWidth": 1.5, "color": "black"}, "encoding": {"x": {"field": "x", "type": "quantitative"}, "y": {"field": "neg", "type": "quantitative"}, "y2": {"field": "negHi"}}},
     {"data": {"name": "bG"}, "mark": {"type": "tick", "orient": "horizontal", "size": 10, "thickness": 1.5, "color": "black", "opacity": 1}, "encoding": {"x": {"field": "x", "type": "quantitative"}, "y": {"field": "negHi", "type": "quantitative"}}},
     {"data": {"name": "bG"}, "mark": {"type": "rule", "strokeWidth": 1.5, "color": "black"}, "encoding": {"x": {"field": "x", "type": "quantitative"}, "y": {"field": "tot", "type": "quantitative"}, "y2": {"field": "totHi"}}},
     {"data": {"name": "bG"}, "mark": {"type": "tick", "orient": "horizontal", "size": 10, "thickness": 1.5, "color": "black", "opacity": 1}, "encoding": {"x": {"field": "x", "type": "quantitative"}, "y": {"field": "totHi", "type": "quantitative"}}},
     {"data": {"name": "rG"}, "mark": {"type": "rule", "strokeWidth": 1.5, "color": "black", "strokeCap": "square"}, "encoding": {"x": {"field": "x1", "type": "quantitative"}, "x2": {"field": "x2"}, "y": {"field": "y", "type": "quantitative"}}},
     {"data": {"name": "rG"}, "mark": {"type": "rule", "strokeWidth": 1.5, "color": "black", "strokeCap": "square"}, "encoding": {"x": {"field": "x1", "type": "quantitative"}, "y": {"field": "yl", "type": "quantitative"}, "y2": {"field": "y"}}},
     {"data": {"name": "rG"}, "mark": {"type": "rule", "strokeWidth": 1.5, "color": "black", "strokeCap": "square"}, "encoding": {"x": {"field": "x2", "type": "quantitative"}, "y": {"field": "yr", "type": "quantitative"}, "y2": {"field": "y"}}},
     {"data": {"name": "rG"}, "mark": {"type": "text", "baseline": "bottom", "dy": -3, "font": "Liberation Sans", "fontSize": 9, "color": "black"}, "encoding": {"x": {"field": "xm", "type": "quantitative"}, "y": {"field": "y", "type": "quantitative"}, "text": {"field": "t"}}},
     {"data": {"name": "xl4"}, "mark": {"type": "text", "align": "center", "baseline": "top", "font": "Liberation Sans", "fontWeight": "bold", "fontSize": 8, "color": "black"}, "encoding": {"x": {"field": "x", "type": "quantitative"}, "y": {"datum": -5.9, "type": "quantitative"}, "text": {"field": "lab"}}},
     {"data": {"values": [{"letter": "G"}]}, "mark": {"type": "text", "font": "Lato", "fontSize": 17, "fontWeight": "bold", "baseline": "alphabetic", "align": "center", "color": "black"}, "encoding": {"x": {"datum": -0.06, "type": "quantitative"}, "y": {"datum": 136.1, "type": "quantitative"}, "text": {"field": "letter"}}}
    ]},
   {"width": 77, "height": 1, "data": {"values": []}, "mark": "point"},
   {"width": 110, "height": 111,
    "title": {"text": "GB-d1- GA", "dx": -20, "offset": -17.7, "fontSize": 15},
    "layer": [
     {"data": {"name": "bH"}, "mark": {"type": "bar", "size": 20, "stroke": "black", "strokeWidth": 1.5},
      "encoding": {
       "x": {"field": "x", "type": "quantitative", "scale": {"domain": [0.5, 4.5], "nice": false, "zero": false},
        "axis": {"values": [1, 2, 3, 4], "labels": false, "tickSize": 3, "tickWidth": 1.5, "domainWidth": 1.5, "title": null}},
       "y": {"field": "neg", "type": "quantitative", "stack": null, "scale": {"domain": [0, 90], "nice": false},
        "axis": {"values": [0, 20, 40, 60, 80], "title": "% Apoptosis", "titleFontSize": 9, "titleX": -25, "titleBaseline": "middle", "labelFontSize": 9, "tickSize": 3, "tickWidth": 1.5, "domainWidth": 1.5, "labelPadding": 1}},
       "color": {"datum": "casp 3/7 (+) / sytox (-)", "type": "nominal", "scale": {"domain": ["casp 3/7 (+) / sytox (-)", "casp 3/7 (+) / sytox (+)"], "range": ["#a3a3a3", "#ffffff"]}, "legend": null}
      }},
     {"data": {"name": "bH"}, "mark": {"type": "bar", "size": 20, "stroke": "black", "strokeWidth": 1.5},
      "encoding": {"x": {"field": "x", "type": "quantitative"}, "y": {"field": "neg", "type": "quantitative"}, "y2": {"field": "tot"}, "color": {"datum": "casp 3/7 (+) / sytox (+)", "type": "nominal"}}},
     {"data": {"name": "bH"}, "mark": {"type": "rule", "strokeWidth": 1.5, "color": "black"}, "encoding": {"x": {"field": "x", "type": "quantitative"}, "y": {"field": "neg", "type": "quantitative"}, "y2": {"field": "negHi"}}},
     {"data": {"name": "bH"}, "mark": {"type": "tick", "orient": "horizontal", "size": 10, "thickness": 1.5, "color": "black", "opacity": 1}, "encoding": {"x": {"field": "x", "type": "quantitative"}, "y": {"field": "negHi", "type": "quantitative"}}},
     {"data": {"name": "bH"}, "mark": {"type": "rule", "strokeWidth": 1.5, "color": "black"}, "encoding": {"x": {"field": "x", "type": "quantitative"}, "y": {"field": "tot", "type": "quantitative"}, "y2": {"field": "totHi"}}},
     {"data": {"name": "bH"}, "mark": {"type": "tick", "orient": "horizontal", "size": 10, "thickness": 1.5, "color": "black", "opacity": 1}, "encoding": {"x": {"field": "x", "type": "quantitative"}, "y": {"field": "totHi", "type": "quantitative"}}},
     {"data": {"name": "rH"}, "mark": {"type": "rule", "strokeWidth": 1.5, "color": "black", "strokeCap": "square"}, "encoding": {"x": {"field": "x1", "type": "quantitative"}, "x2": {"field": "x2"}, "y": {"field": "y", "type": "quantitative"}}},
     {"data": {"name": "rH"}, "mark": {"type": "rule", "strokeWidth": 1.5, "color": "black", "strokeCap": "square"}, "encoding": {"x": {"field": "x1", "type": "quantitative"}, "y": {"field": "yl", "type": "quantitative"}, "y2": {"field": "y"}}},
     {"data": {"name": "rH"}, "mark": {"type": "rule", "strokeWidth": 1.5, "color": "black", "strokeCap": "square"}, "encoding": {"x": {"field": "x2", "type": "quantitative"}, "y": {"field": "yr", "type": "quantitative"}, "y2": {"field": "y"}}},
     {"data": {"name": "rH"}, "mark": {"type": "text", "baseline": "bottom", "dy": -3, "font": "Liberation Sans", "fontSize": 9, "color": "black"}, "encoding": {"x": {"field": "xm", "type": "quantitative"}, "y": {"field": "y", "type": "quantitative"}, "text": {"field": "t"}}},
     {"data": {"name": "xl4"}, "mark": {"type": "text", "align": "center", "baseline": "top", "font": "Liberation Sans", "fontWeight": "bold", "fontSize": 8, "color": "black"}, "encoding": {"x": {"field": "x", "type": "quantitative"}, "y": {"datum": -4.46, "type": "quantitative"}, "text": {"field": "lab"}}},
     {"data": {"values": [{"letter": "H"}]}, "mark": {"type": "text", "font": "Lato", "fontSize": 17, "fontWeight": "bold", "baseline": "alphabetic", "align": "center", "color": "black"}, "encoding": {"x": {"datum": -1.43, "type": "quantitative"}, "y": {"datum": 103.0, "type": "quantitative"}, "text": {"field": "letter"}}}
    ]}
  ], "spacing": 60, "bounds": "flush", "resolve": {"scale": {"color": "independent"}, "legend": {"color": "independent"}}}
 ]}
]
}
